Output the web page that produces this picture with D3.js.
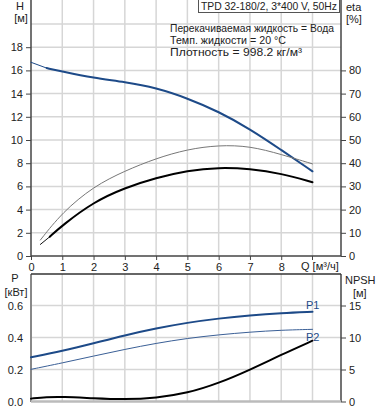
<!DOCTYPE html>
<html><head><meta charset="utf-8">
<script src="https://cdn.jsdelivr.net/npm/d3@7"></script>
<style>
body{margin:0;background:#fff;}
svg text{font-family:"Liberation Sans",Arial,sans-serif;font-size:11px;fill:#222;}
</style></head>
<body><svg id="c" width="378" height="410"></svg>
<script>
// ---- data ----
const qTicks = [0,1,2,3,4,5,6,7,8];
const hTicks = [0,2,4,6,8,10,12,14,16,18];
const etaTicks = [0,10,20,30,40,50,60,70,80];
const pTicks = [0.0,0.2,0.4,0.6];
const npshTicks = [0,5,10,15];

const qHead = [0,0.5,1,2,3,4,5,6,7,8,9];
const head  = [16.7,16.2,15.9,15.35,15.0,14.5,13.6,12.45,10.95,9.15,7.3];

const qEtaA = [0.3,1,2,3,4,5,6,7,8,9];
const etaA  = [6.9,18.8,30.0,36.7,42.1,46.0,47.8,47.4,43.8,39.7];

const qEtaB = [0.3,0.6,1,2,3,4,5,6,7,8,9];
const etaB  = [5.0,8.3,13.2,23.3,29.4,33.7,36.8,38.2,37.6,35.6,31.8];

const qP = [0,1,2,3,4,5,6,7,8,9];
const p1 = [0.276,0.316,0.364,0.414,0.457,0.493,0.519,0.539,0.553,0.561];
const p2 = [0.201,0.241,0.284,0.326,0.364,0.395,0.417,0.434,0.446,0.451];

const qN = [0,0.5,1,2,3,4,5,6,7,8,9];
const npsh = [0.45,0.7,0.75,0.5,0.3,0.55,1.3,2.86,4.95,7.3,9.5];

const infoLines = ["Перекачиваемая жидкость = Вода","Темп. жидкости = 20 °C","Плотность = 998.2 кг/м³"];
const infoWidths = [164,116,132];
const title = "TPD 32-180/2, 3*400 V, 50Hz";

// ---- scales ----
const L = 31, R = 341;
const x = d3.scaleLinear([0,9],[31,312.5]);
const yH = d3.scaleLinear([0,22],[256,0.8]);
const yEta = d3.scaleLinear([0,110],[256,0.8]);
const yP = d3.scaleLinear([0,0.8],[401.5,273.5]);
const yN = d3.scaleLinear([0,20],[401.5,273.5]);

const svg = d3.select("#c");
const blue = "#1d4a88";
const grid = "#d6d6d6";

// ---- top chart grid ----
const gT = svg.append("g");
gT.selectAll(".vg").data(d3.range(1,10)).join("line")
  .attr("x1",d=>x(d)).attr("x2",d=>x(d)).attr("y1",0).attr("y2",256)
  .attr("stroke",grid).attr("stroke-width",1.5);
gT.selectAll(".hg").data(d3.range(2,22,2)).join("line")
  .attr("x1",L).attr("x2",R).attr("y1",d=>yH(d)).attr("y2",d=>yH(d))
  .attr("stroke",grid).attr("stroke-width",1.5);

// bottom grid
const gB = svg.append("g");
gB.selectAll("line.v").data(d3.range(1,10)).join("line")
  .attr("x1",d=>x(d)).attr("x2",d=>x(d)).attr("y1",274).attr("y2",401)
  .attr("stroke",grid).attr("stroke-width",1.5);
gB.selectAll("line.h").data([0.2,0.4,0.6]).join("line")
  .attr("x1",L).attr("x2",R).attr("y1",d=>yP(d)).attr("y2",d=>yP(d))
  .attr("stroke",grid).attr("stroke-width",1.5);

// ---- axes top ----
function styleAxis(g){
  g.select(".domain").remove();
  g.selectAll(".tick line").attr("stroke","#444");
  g.selectAll(".tick text").attr("fill","#222").style("font-size","11px");
}
svg.append("g").attr("transform",`translate(${L},0)`)
  .call(d3.axisLeft(yH).tickValues(hTicks).tickSize(5).tickFormat(d3.format("d"))).call(styleAxis);
svg.append("g").attr("transform",`translate(${R},0)`)
  .call(d3.axisRight(yEta).tickValues(etaTicks).tickSize(5).tickFormat(d3.format("d"))).call(styleAxis);
svg.append("g").attr("transform",`translate(0,256)`)
  .call(d3.axisBottom(x).tickValues(qTicks).tickSize(4).tickFormat(d3.format("d"))).call(styleAxis);
svg.append("line").attr("x1",x(9)).attr("x2",x(9)).attr("y1",256).attr("y2",260).attr("stroke","#444");
svg.append("text").attr("x",301).attr("y",270).text("Q [м³/ч]");

svg.append("line").attr("x1",L).attr("x2",L).attr("y1",0).attr("y2",256).attr("stroke","#444").attr("stroke-width",1.5);
svg.append("line").attr("x1",R).attr("x2",R).attr("y1",0).attr("y2",256).attr("stroke","#444").attr("stroke-width",1.5);
svg.append("line").attr("x1",L).attr("x2",R).attr("y1",256).attr("y2",256).attr("stroke","#444").attr("stroke-width",1.5);

// ---- axes bottom ----
svg.append("g").attr("transform",`translate(${L},0)`)
  .call(d3.axisLeft(yP).tickValues(pTicks).tickSize(0).tickPadding(8).tickFormat(d3.format(".1f"))).call(styleAxis);
svg.append("g").attr("transform",`translate(${R},0)`)
  .call(d3.axisRight(yN).tickValues(npshTicks).tickSize(5).tickFormat(d3.format("d"))).call(styleAxis);
svg.append("line").attr("x1",L).attr("x2",L).attr("y1",274).attr("y2",402).attr("stroke","#888").attr("stroke-width",2);
svg.append("line").attr("x1",R).attr("x2",R).attr("y1",274).attr("y2",402).attr("stroke","#444").attr("stroke-width",1.5);
svg.append("line").attr("x1",L).attr("x2",R).attr("y1",274).attr("y2",274).attr("stroke","#333").attr("stroke-width",1.5);
svg.append("line").attr("x1",L).attr("x2",R).attr("y1",401.5).attr("y2",401.5).attr("stroke","#bbb").attr("stroke-width",2.5);

// ---- axis titles ----
svg.append("text").attr("x",20).attr("y",10).attr("text-anchor","middle").text("H");
svg.append("text").attr("x",21).attr("y",22).attr("text-anchor","middle").text("[м]");
svg.append("text").attr("x",346).attr("y",11).text("eta");
svg.append("text").attr("x",346).attr("y",23).text("[%]");
svg.append("text").attr("x",15).attr("y",282).attr("text-anchor","middle").text("P");
svg.append("text").attr("x",16).attr("y",296).attr("text-anchor","middle").text("[кВт]");
svg.append("text").attr("x",345).attr("y",284).text("NPSH");
svg.append("text").attr("x",353).attr("y",297).text("[м]");

// ---- title box & info ----
svg.append("rect").attr("x",198.5).attr("y",-1).attr("width",141).attr("height",13.5)
  .attr("fill","#fff").attr("stroke","#555");
svg.append("text").attr("x",201).attr("y",10).attr("textLength",136).attr("lengthAdjust","spacingAndGlyphs").text(title);
svg.selectAll("text.info").data(infoLines).join("text")
  .attr("x",170).attr("y",(d,i)=>31.5+i*12)
  .attr("textLength",(d,i)=>infoWidths[i]).attr("lengthAdjust","spacingAndGlyphs").text(d=>d);

// ---- curves ----
const mk = (xs,ys,sc)=> xs.map((q,i)=>[x(q),sc(ys[i])]);
const line = d3.line().curve(d3.curveBasis);
function draw(pts,color,w){ svg.append("path").attr("d",line(pts)).attr("fill","none").attr("stroke",color).attr("stroke-width",w).attr("stroke-linejoin","round").attr("stroke-linecap","round"); }
// head: thin start, thick rest
const headPts = mk(qHead,head,yH);
draw(headPts.slice(0,2),blue,1);
draw(headPts.slice(1),blue,2);
// eta thin gray
draw(mk(qEtaA,etaA,yEta),"#777",1);
// eta thick black
const eB = mk(qEtaB,etaB,yEta);
draw(eB.slice(0,2),"#111",1);
draw(eB.slice(1),"#000",2);
// power
draw(mk(qP,p1,yP),blue,2);
draw(mk(qP,p2,yP),"#3a5f96",1);
// npsh
draw(mk(qN,npsh,yN),"#000",2);

svg.append("text").attr("x",306).attr("y",309).style("fill",blue).text("P1");
svg.append("text").attr("x",306).attr("y",341).style("fill",blue).text("P2");
</script></body></html>
